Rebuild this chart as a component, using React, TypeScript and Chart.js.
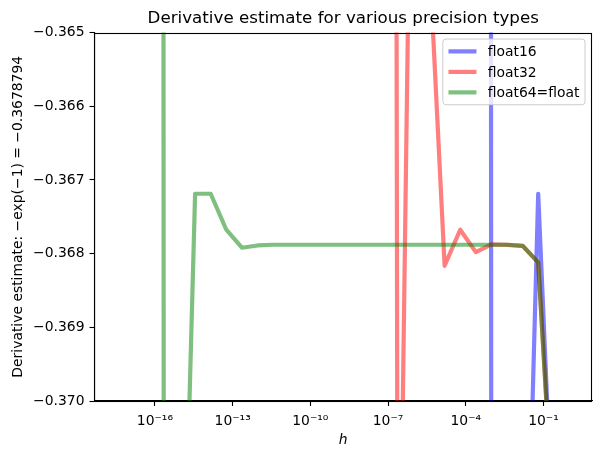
import React, { useEffect, useRef } from 'react';
import { Chart, registerables } from 'chart.js';

Chart.register(...registerables);

const TITLE = 'Derivative estimate for various precision types';
const Y_LABEL = 'Derivative estimate: \u2212exp(\u22121) = \u22120.3678794';
const X_LABEL = 'h';

// step sizes h (powers of 4, from 1 down to 2^-58)
const hValues = [
  2 ** 0, 2 ** -2, 2 ** -4, 2 ** -6, 2 ** -8, 2 ** -10, 2 ** -12, 2 ** -14, 2 ** -16, 2 ** -18,
  2 ** -20, 2 ** -22, 2 ** -24, 2 ** -26, 2 ** -28, 2 ** -30, 2 ** -32, 2 ** -34, 2 ** -36, 2 ** -38,
  2 ** -40, 2 ** -42, 2 ** -44, 2 ** -46, 2 ** -48, 2 ** -50, 2 ** -52, 2 ** -54, 2 ** -56, 2 ** -58,
];

const float16Values = [
  -0.4323, -0.3721, -0.3671875, -0.375, -0.375, -0.375, 0, 0, 0, 0,
  0, 0, 0, 0, 0, 0, 0, 0, 0, 0,
  0, 0, 0, 0, 0, 0, 0, 0, 0, 0,
];

const float32Values = [
  -0.43233, -0.37172, -0.368119, -0.367894, -0.367881, -0.367874, -0.36798, -0.367676, -0.368164, -0.3639,
  -0.359375, -0.375, -0.25, 0, 0, 0, 0, 0, 0, 0,
  0, 0, 0, 0, 0, 0, 0, 0, 0, 0,
];

const float64Values = [
  -0.43233, -0.371724, -0.368119, -0.367894, -0.36788, -0.3678794, -0.3678794, -0.3678794, -0.3678794, -0.3678794,
  -0.3678794, -0.3678794, -0.3678794, -0.3678794, -0.3678794, -0.3678794, -0.3678794, -0.3678794, -0.3678794, -0.3678794,
  -0.3678894, -0.36792, -0.367676, -0.3671875, -0.3671875, -0.375, -0.375, 0, 0, 0,
];

const seriesLabels = ['float16', 'float32', 'float64=float'];
const seriesColors = ['rgba(0,0,255,0.5)', 'rgba(255,0,0,0.5)', 'rgba(0,128,0,0.5)'];

const yTicks = [-0.37, -0.369, -0.368, -0.367, -0.366, -0.365];
const xTickExponents = [-16, -13, -10, -7, -4, -1];
const X_MIN = 10 ** -18.333;
const X_MAX = 10 ** 0.873;
const Y_MIN = -0.37;
const Y_MAX = -0.365;

const FONT = '"DejaVu Sans", "Liberation Sans", sans-serif';

const SUP: Record<string, string> = {
  '-': '\u207B', '0': '\u2070', '1': '\u00B9', '2': '\u00B2', '3': '\u00B3', '4': '\u2074',
  '5': '\u2075', '6': '\u2076', '7': '\u2077', '8': '\u2078', '9': '\u2079',
};

function powLabel(v: number): string {
  const e = Math.round(Math.log10(v));
  return '10' + String(e).split('').map((c) => SUP[c] || c).join('');
}

const framePlugin = {
  id: 'mplFrame',
  afterDatasetsDraw(chart: any) {
    const { ctx, chartArea: a } = chart;
    ctx.save();
    ctx.strokeStyle = '#000';
    ctx.lineWidth = 1.1;
    const l = Math.round(a.left) - 0.5;
    const r = Math.round(a.right) - 0.5;
    const t = Math.round(a.top) + 0.5;
    const b = Math.round(a.bottom) + 0.5;
    ctx.strokeRect(l, t, r - l, b - t);
    ctx.restore();
  },
  afterDraw(chart: any) {
    const { ctx, chartArea: a } = chart;
    const ds = chart.data.datasets;
    ctx.save();
    ctx.font = '13.9px ' + FONT;
    let maxW = 0;
    ds.forEach((d: any) => {
      maxW = Math.max(maxW, ctx.measureText(d.label).width);
    });
    const pad = 5.6;
    const handle = 28;
    const gap = 11.2;
    const rowH = 20.5;
    const w = pad + handle + gap + maxW + pad;
    const h = pad * 2 + 13.5 * ds.length + 7 * (ds.length - 1);
    const x0 = a.right - 7 - w;
    const y0 = a.top + 6.5;
    ctx.beginPath();
    (ctx as any).roundRect(x0, y0, w, h, 3);
    ctx.fillStyle = 'rgba(255,255,255,0.8)';
    ctx.fill();
    ctx.strokeStyle = '#cccccc';
    ctx.lineWidth = 1;
    ctx.stroke();
    ds.forEach((d: any, i: number) => {
      const cy = y0 + pad + 6.75 + i * rowH;
      ctx.beginPath();
      ctx.strokeStyle = d.borderColor;
      ctx.lineWidth = 4.2;
      ctx.moveTo(x0 + pad, cy);
      ctx.lineTo(x0 + pad + handle, cy);
      ctx.stroke();
      ctx.fillStyle = '#000';
      ctx.textBaseline = 'alphabetic';
      ctx.textAlign = 'left';
      ctx.fillText(d.label, x0 + pad + handle + gap, cy + 5);
    });
    ctx.restore();
  },
};

export default function App() {
  const ref = useRef<HTMLCanvasElement | null>(null);

  useEffect(() => {
    if (!ref.current) return;
    const seriesValues = [float16Values, float32Values, float64Values];
    const datasets = seriesValues.map((vals, si) => ({
      label: seriesLabels[si],
      data: hValues.map((x, i) => ({ x, y: vals[i] })),
      borderColor: seriesColors[si],
      backgroundColor: seriesColors[si],
      borderWidth: 4.2,
      pointRadius: 0,
      tension: 0,
      fill: false,
      clip: 0,
      borderJoinStyle: 'round' as const,
      order: 3 - si,
    }));

    const chart = new Chart(ref.current, {
      type: 'line',
      data: { datasets },
      plugins: [framePlugin],
      options: {
        responsive: false,
        animation: false,
        devicePixelRatio: 1,
        events: [],
        layout: { padding: { left: 0, right: 8, top: 0, bottom: 0 } },
        plugins: {
          legend: { display: false },
          tooltip: { enabled: false },
          title: {
            display: true,
            text: TITLE,
            color: '#000',
            fullSize: false,
            font: { family: FONT, size: 16.7, weight: 'normal', lineHeight: 1.2 },
            padding: { top: 8.9, bottom: 3.6 },
          },
        },
        scales: {
          x: {
            type: 'logarithmic',
            min: X_MIN,
            max: X_MAX,
            afterBuildTicks: (scale: any) => {
              scale.ticks = xTickExponents.map((e) => ({ value: 10 ** e, major: true }));
            },
            afterFit: (scale: any) => {
              scale.height = 59;
            },
            ticks: {
              autoSkip: false,
              maxRotation: 0,
              minRotation: 0,
              color: '#000',
              padding: 6.6,
              font: { family: FONT, size: 13.9 },
              callback: (v: any) => powLabel(Number(v)),
            },
            grid: {
              display: true,
              drawOnChartArea: false,
              drawTicks: true,
              tickLength: 5,
              tickWidth: 1.1,
              tickColor: '#000',
              color: '#000',
            },
            border: { display: true, color: '#000', width: 1.1 },
            title: {
              display: true,
              text: X_LABEL,
              color: '#000',
              font: { family: FONT, size: 13.9, style: 'italic' },
              padding: { top: 0, bottom: 11.4 },
            },
          },
          y: {
            type: 'linear',
            min: Y_MIN,
            max: Y_MAX,
            afterBuildTicks: (scale: any) => {
              scale.ticks = yTicks.map((v) => ({ value: v }));
            },
            afterFit: (scale: any) => {
              scale.width = 94.5;
            },
            ticks: {
              color: '#000',
              padding: 5,
              font: { family: FONT, size: 13.9 },
              callback: (v: any) => '\u2212' + Math.abs(Number(v)).toFixed(3),
            },
            grid: {
              display: true,
              drawOnChartArea: false,
              drawTicks: true,
              tickLength: 5,
              tickWidth: 1.1,
              tickColor: '#000',
              color: '#000',
            },
            border: { display: true, color: '#000', width: 1.1 },
            title: {
              display: true,
              text: Y_LABEL,
              color: '#000',
              font: { family: FONT, size: 13.9 },
              padding: { top: 10.2, bottom: 0 },
            },
          },
        },
      } as any,
    });
    return () => chart.destroy();
  }, []);

  return (
    <div style={{ position: 'fixed', left: 0, top: 0, width: 600, height: 460, background: '#fff' }}>
      <canvas ref={ref} width={600} height={460} style={{ display: 'block' }} />
    </div>
  );
}
